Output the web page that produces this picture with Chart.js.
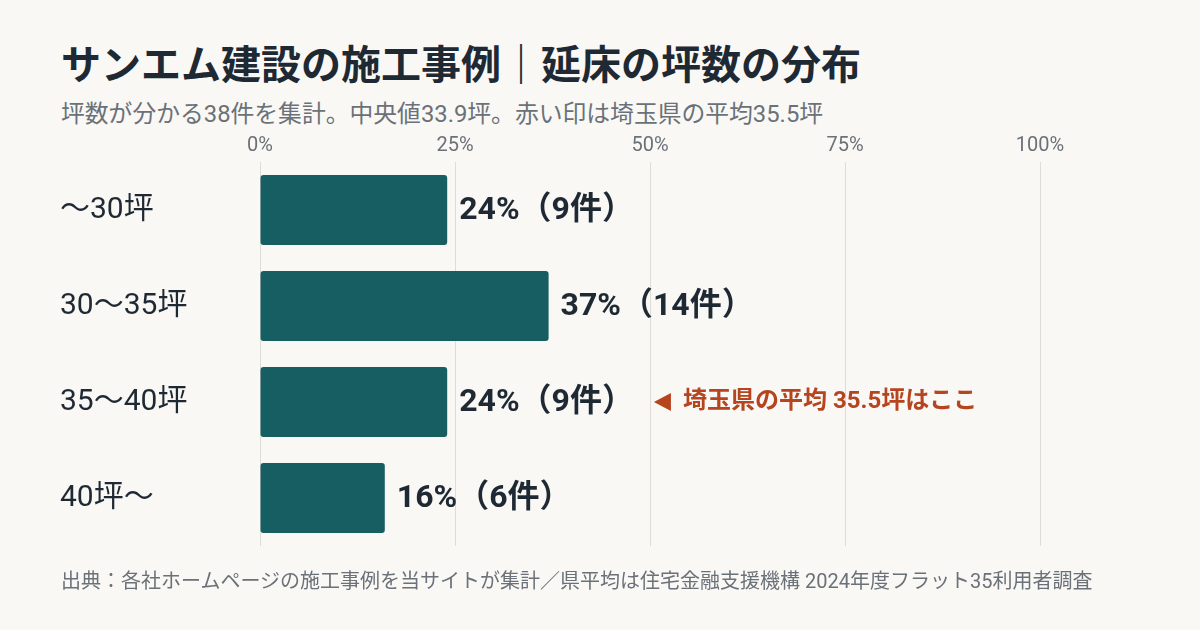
<!DOCTYPE html>
<html lang="ja">
<head>
<meta charset="utf-8">
<script src="https://cdn.jsdelivr.net/npm/chart.js@4"></script>
<style>
  html, body { margin: 0; padding: 0; background: #f9f8f5; }
  body { width: 1200px; height: 630px; position: relative; overflow: hidden;
         font-family: Roboto, "Noto Sans CJK JP", sans-serif; }
  .title { position: absolute; left: 61px; top: 46px; margin: 0; font-size: 40px; line-height: 40px;
           font-weight: 700; color: #1f2933; white-space: nowrap; }
  .sub { position: absolute; left: 61px; top: 102px; margin: 0; font-size: 23.8px; line-height: 24px;
         color: #6b7178; white-space: nowrap; }
  .note { position: absolute; left: 61px; top: 570px; margin: 0; font-size: 20px; line-height: 22px;
          color: #6b7178; white-space: nowrap; }
  .wrap { position: absolute; left: 0; top: 0; width: 1200px; height: 630px; }
</style>
</head>
<body>
<h1 class="title">サンエム建設の施工事例｜延床の坪数の分布</h1>
<p class="sub">坪数が分かる38件を集計。中央値33.9坪。赤い印は埼玉県の平均35.5坪</p>
<div class="wrap"><canvas id="myChart" width="1200" height="630"></canvas></div>
<p class="note">出典：各社ホームページの施工事例を当サイトが集計／県平均は住宅金融支援機構 2024年度フラット35利用者調査</p>
<script>
const font = 'Roboto, "Noto Sans CJK JP", sans-serif';

// categories and values
const labels = ['～30坪', '30～35坪', '35～40坪', '40坪～'];
const shares = [24, 37, 24, 16];            // %
const counts = [9, 14, 9, 6];               // 件
const xTicks = [0, 25, 50, 75, 100];

const markRow = 2;                           // 35～40坪
const markText = '埼玉県の平均 35.5坪はここ';

// bar labels + red marker
const barText = {
    id: 'barText',
    afterDatasetsDraw(chart) {
        const ctx = chart.ctx;
        const bars = chart.getDatasetMeta(0).data;
        ctx.save();
        ctx.textBaseline = 'middle';
        bars.forEach(function(bar, i) {
            const txt = shares[i] + '%（' + counts[i] + '件）';
            ctx.font = 'bold 32px ' + font;
            ctx.fillStyle = '#1f2933';
            ctx.textAlign = 'left';
            ctx.fillText(txt, bar.x + 12, bar.y + 1);
            if (i === markRow) {
                const w = ctx.measureText(txt).width;
                const x0 = bar.x + 12 + w + 20;
                ctx.fillStyle = '#b5441f';
                ctx.beginPath();
                ctx.moveTo(x0, bar.y);
                ctx.lineTo(x0 + 17, bar.y - 9);
                ctx.lineTo(x0 + 17, bar.y + 9);
                ctx.closePath();
                ctx.fill();
                ctx.font = 'bold 24px ' + font;
                ctx.fillText(markText, x0 + 29, bar.y);
            }
        });
        ctx.restore();
    }
};

const data = {
    labels: labels,
    datasets: [{
        data: shares,
        backgroundColor: '#175e63',
        borderRadius: 3,
        borderSkipped: false,
        barPercentage: 0.73,
        categoryPercentage: 1
    }]
};

const config = {
    type: 'bar',
    data: data,
    plugins: [barText],
    options: {
        indexAxis: 'y',
        responsive: false,
        animation: false,
        layout: { padding: { left: 60, right: 160, top: 132, bottom: 84 } },
        plugins: {
            legend: { display: false },
            tooltip: { enabled: false }
        },
        scales: {
            x: {
                position: 'top',
                min: 0,
                max: 100,
                afterBuildTicks: function(scale) {
                    scale.ticks = xTicks.map(function(v) { return { value: v }; });
                },
                afterFit: function(scale) { scale.height = 30; },
                grid: { color: '#dddcd7', lineWidth: 1, drawTicks: false },
                border: { display: false },
                ticks: {
                    padding: 4,
                    color: '#6b7178',
                    font: { family: font, size: 20 },
                    callback: function(v) { return v + '%'; }
                }
            },
            y: {
                afterFit: function(scale) { scale.width = 200; },
                grid: { display: false },
                border: { display: false },
                ticks: {
                    crossAlign: 'far',
                    color: '#1f2933',
                    font: { family: font, size: 30 }
                }
            }
        }
    }
};

const myChart = new Chart(document.getElementById('myChart'), config);
</script>
</body>
</html>
